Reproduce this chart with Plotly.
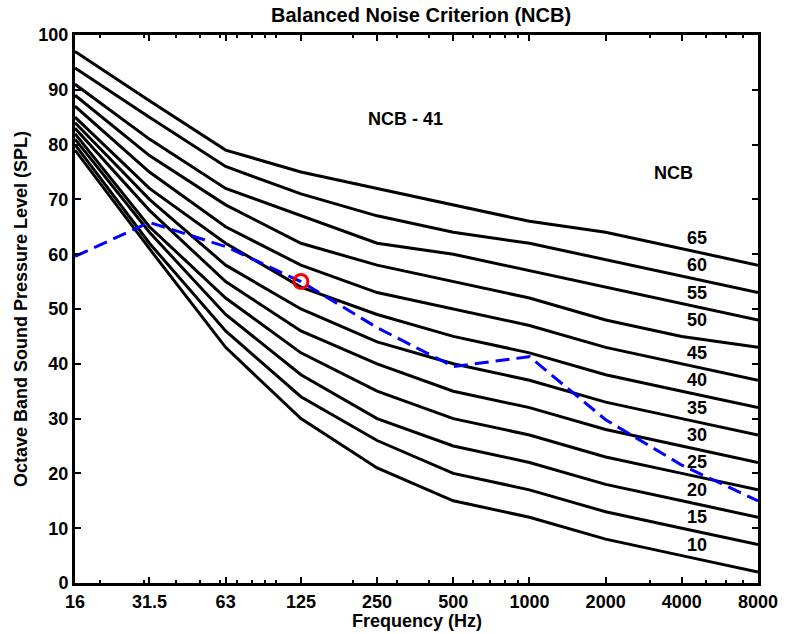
import plotly.graph_objects as go

freqs = [16, 31.5, 63, 125, 250, 500, 1000, 2000, 4000, 8000]
freq_labels = ["16", "31.5", "63", "125", "250", "500", "1000", "2000", "4000", "8000"]

ncb_levels = [10, 15, 20, 25, 30, 35, 40, 45, 50, 55, 60, 65]
ncb10 = [79, 61, 43, 30, 21, 15, 12, 8, 5, 2]
ncb15 = [80, 62, 46, 34, 26, 20, 17, 13, 10, 7]
ncb20 = [81, 64, 49, 38, 30, 25, 22, 18, 15, 12]
ncb25 = [82, 65, 52, 42, 35, 30, 27, 23, 20, 17]
ncb30 = [83, 68, 55, 46, 40, 35, 32, 28, 25, 22]
ncb35 = [84, 70, 58, 50, 44, 40, 37, 33, 30, 27]
ncb40 = [85, 72, 62, 54, 49, 45, 42, 38, 35, 32]
ncb45 = [87, 75, 65, 58, 53, 50, 47, 43, 40, 37]
ncb50 = [89, 78, 69, 62, 58, 55, 52, 48, 45, 43]
ncb55 = [91, 81, 72, 67, 62, 60, 57, 54, 51, 48]
ncb60 = [94, 85, 76, 71, 67, 64, 62, 59, 56, 53]
ncb65 = [97, 88, 79, 75, 72, 69, 66, 64, 61, 58]
ncb_curves = [ncb10, ncb15, ncb20, ncb25, ncb30, ncb35, ncb40, ncb45, ncb50, ncb55, ncb60, ncb65]

measured = [59.6, 65.8, 61.4, 55.0, 46.6, 39.5, 41.3, 29.8, 21.5, 15.0]
rating_freq = [125]
rating_level = [55]
rating_text = "NCB - 41"

FONT = "Liberation Sans"

fig = go.Figure()
for curve in ncb_curves:
    fig.add_trace(go.Scatter(x=freqs, y=curve, mode="lines",
                             line=dict(color="black", width=3),
                             showlegend=False, hoverinfo="skip"))

fig.add_trace(go.Scatter(x=freqs, y=measured, mode="lines",
                         line=dict(color="#0000FF", width=3, dash="14px,7px"),
                         showlegend=False))
fig.add_trace(go.Scatter(x=rating_freq, y=rating_level, mode="markers",
                         marker=dict(symbol="circle-open", size=14, color="#FF0000",
                                     line=dict(width=3, color="#FF0000")),
                         showlegend=False))

bold = dict(family=FONT, size=18, color="black", weight="bold")

for lvl, curve in zip(ncb_levels, ncb_curves):
    fig.add_annotation(x=0.91, xref="paper", y=curve[-1] + 5, yref="y",
                       text=str(lvl), showarrow=False, font=bold,
                       xanchor="center", yanchor="middle")

fig.add_annotation(x=0.877, xref="paper", y=0.748, yref="paper", text="NCB",
                   showarrow=False, font=bold, xanchor="center", yanchor="middle")
fig.add_annotation(x=0.484, xref="paper", y=0.847, yref="paper", text=rating_text,
                   showarrow=False, font=bold, xanchor="center", yanchor="middle")

# x-axis title placed just below the tick labels
fig.add_annotation(x=0.5, xref="paper", y=0, yref="paper", yshift=-38,
                   text="Frequency (Hz)", showarrow=False,
                   font=dict(family=FONT, size=18, color="black", weight="bold"),
                   xanchor="center", yanchor="middle")

fig.update_layout(
    width=790, height=634,
    margin=dict(l=75, r=23, t=35, b=51),
    paper_bgcolor="white", plot_bgcolor="white",
    title=dict(text="Balanced Noise Criterion (NCB)", x=0.533, xanchor="center",
               y=0.987, yanchor="top",
               font=dict(family=FONT, size=20, color="black", weight="bold")),
    showlegend=False,
)
fig.update_xaxes(
    type="log", range=[1.2041, 3.9031],
    tickvals=freqs, ticktext=freq_labels,
    ticks="inside", ticklen=6, tickwidth=2, tickcolor="black",
    minor=dict(ticks="inside", ticklen=3, tickwidth=2, tickcolor="black", dtick="D1"),
    showline=True, linewidth=3, linecolor="black", mirror="ticks",
    showgrid=False, zeroline=False,
    tickfont=dict(family=FONT, size=18, color="black", weight="bold"),
)
fig.update_yaxes(
    range=[0, 100], dtick=10,
    ticks="inside", ticklen=6, tickwidth=2, tickcolor="black",
    showline=True, linewidth=3, linecolor="black", mirror="ticks",
    showgrid=False, zeroline=False,
    tickfont=dict(family=FONT, size=18, color="black", weight="bold"),
    title=dict(text="Octave Band Sound Pressure Level (SPL)", standoff=7,
               font=dict(family=FONT, size=18, color="black", weight="bold")),
)

fig.write_html("out.html", config={"displayModeBar": False},
               post_script="document.body.style.margin='0';document.body.style.overflow='hidden';")
